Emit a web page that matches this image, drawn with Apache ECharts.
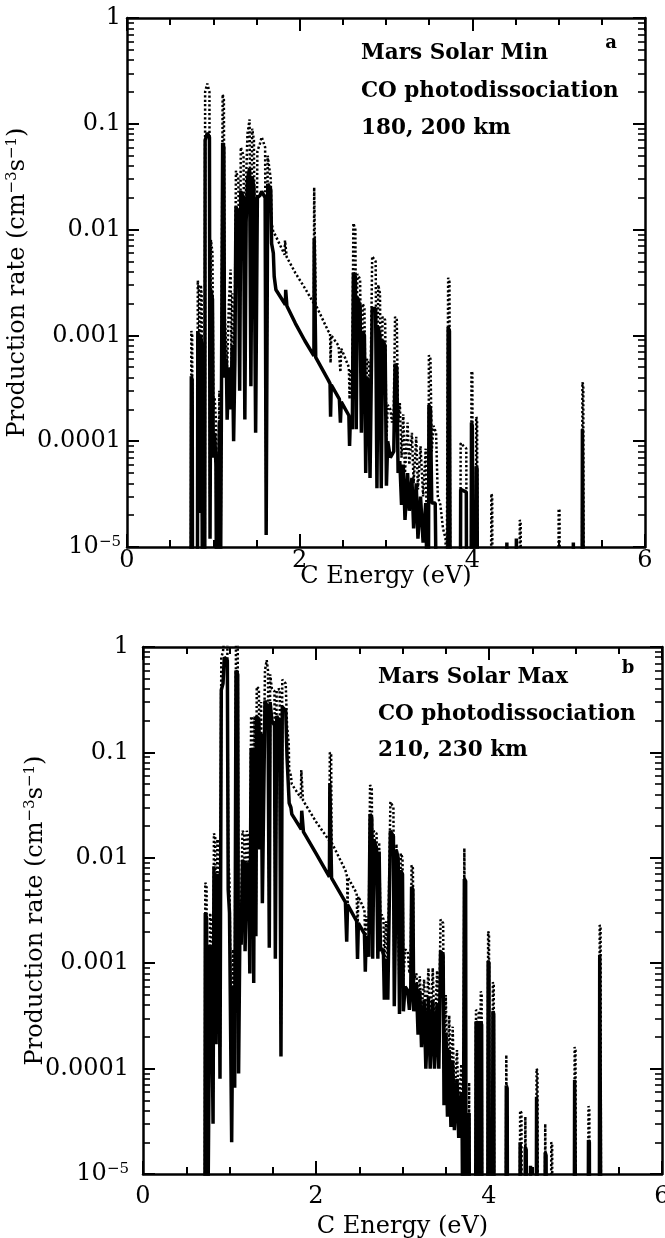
<!DOCTYPE html>
<html>
<head>
<meta charset="utf-8">
<script src="https://cdn.jsdelivr.net/npm/echarts@6/dist/echarts.min.js"></script>
<style>
  html, body { margin: 0; padding: 0; background: #fff; }
  #chart { width: 665px; height: 1238px; }
</style>
</head>
<body>
<div id="chart"></div>
<script>
// C-atom production-rate spectra from CO photodissociation on Mars.
// Each series is a polyline of [energy (eV), rate (cm^-3 s^-1)] vertices;
// values of 1e-6 sit below the 1e-5 floor and are clipped by the grid.

const energyTicks = [0, 2, 4, 6];
const rateDecades = [1e-5, 1e-4, 1e-3, 1e-2, 1e-1, 1];
const rateLabels = ['10{e|−5}', '0.0001', '0.001', '0.01', '0.1', '1'];

// Panel a: solar minimum, lower altitude (dotted) and upper altitude (solid)
const minSolid = [
  [0.74,1e-6],[0.745,4.1e-4],[0.755,3.8e-4],[0.76,1e-6],
  [0.815,1e-6],[0.82,1.1e-3],[0.835,9e-4],[0.845,2.1e-5],[0.855,1.0e-3],[0.865,8e-4],[0.875,1e-6],
  [0.9,1e-6],[0.905,0.07],[0.93,0.082],[0.955,0.075],[0.962,1.2e-5],[0.972,2.7e-3],[0.99,2.2e-3],[1.0,7e-5],
  [1.015,1.2e-4],[1.03,6e-5],[1.04,1e-6],[1.06,1e-6],[1.07,1.5e-4],[1.08,1e-6],
  [1.1,1e-6],[1.108,0.066],[1.122,0.06],[1.13,4e-4],[1.15,5.9e-4],[1.16,1.6e-4],[1.18,5e-4],[1.2,2e-4],
  [1.22,8e-4],[1.235,1e-4],[1.25,6e-4],
  [1.262,0.0165],[1.29,0.014],[1.305,3e-4],[1.318,0.023],[1.35,0.02],[1.365,1.6e-4],[1.38,0.012],
  [1.395,0.03],[1.42,0.038],[1.435,3.3e-4],[1.45,0.032],[1.47,0.025],[1.49,1.2e-4],[1.51,0.02],
  [1.54,0.021],[1.56,0.023],[1.6,0.02],[1.612,1.3e-5],
  [1.63,0.027],[1.665,0.024],[1.675,7.4e-3],[1.695,6e-3],[1.705,3.6e-3],[1.725,2.7e-3],
  [1.835,1.95e-3],[1.838,2.7e-3],[1.848,2.6e-3],[1.852,1.9e-3],
  [1.95,1.3e-3],[2.06,8.9e-4],[2.165,6.4e-4],[2.168,8.3e-3],[2.182,8.1e-3],[2.186,6.2e-4],
  [2.33,3.8e-4],[2.352,3.5e-4],[2.358,1.7e-4],[2.366,3.4e-4],
  [2.46,2.5e-4],[2.472,1.5e-4],[2.482,2.35e-4],
  [2.57,1.75e-4],[2.578,9e-5],[2.588,1.7e-4],
  [2.61,1.3e-4],[2.622,3.9e-3],[2.645,3.6e-3],[2.655,1.3e-4],[2.668,2.3e-3],[2.7,1.9e-3],[2.715,1.2e-4],
  [2.73,1.1e-3],[2.75,1e-3],[2.765,5e-5],[2.78,4e-4],[2.8,3.6e-4],[2.815,4.5e-5],[2.84,1.8e-3],
  [2.88,1.8e-3],[2.895,3.6e-5],[2.91,1.2e-3],[2.93,1e-3],[2.945,3.6e-5],[2.96,9e-4],[2.99,8e-4],
  [3.005,3.8e-5],[3.02,1e-4],[3.05,7e-5],[3.07,6.8e-5],[3.09,8e-5],[3.105,5.4e-4],[3.125,5e-4],
  [3.14,5e-5],[3.16,6.5e-5],[3.18,2.5e-5],[3.2,6e-5],[3.22,1.8e-5],[3.25,5e-5],[3.27,2.2e-5],
  [3.3,4.5e-5],[3.32,1.5e-5],[3.35,4e-5],[3.37,1.2e-5],[3.4,3e-5],[3.43,1.1e-5],[3.46,2.6e-5],[3.49,1e-6],
  [3.497,2.2e-4],[3.515,2e-4],[3.53,2.6e-5],[3.57,2.6e-5],[3.59,1e-6],
  [3.715,1e-6],[3.72,1.2e-3],[3.735,1.1e-3],[3.745,1e-6],
  [3.86,1e-6],[3.865,3.5e-5],[3.93,3.3e-5],[3.935,1e-6],
  [3.985,1e-6],[3.99,1.5e-4],[4.0,1.4e-4],[4.01,1e-6],
  [4.04,1e-6],[4.045,5.8e-5],[4.055,5.5e-5],[4.06,1e-6],
  [4.395,1e-6],[4.4,1.1e-5],[4.405,1e-6],
  [4.505,1e-6],[4.51,1.2e-5],[4.515,1e-6],
  [5.165,1e-6],[5.17,1.1e-5],[5.175,1e-6],
  [5.27,1e-6],[5.275,1.3e-4],[5.285,1.25e-4],[5.29,1e-6]
];

const minDotted = [
  [0.74,1e-6],[0.745,1.1e-3],[0.755,1e-3],[0.76,1e-6],
  [0.815,1e-6],[0.82,3.3e-3],[0.835,2.5e-3],[0.845,6e-5],[0.855,3e-3],[0.865,2.4e-3],[0.875,1e-6],
  [0.9,1e-6],[0.905,0.2],[0.93,0.24],[0.955,0.2],[0.962,3e-5],[0.972,8e-3],[0.99,6e-3],[1.0,2e-4],
  [1.015,2.6e-4],[1.03,1.6e-4],[1.04,1e-6],[1.06,1e-6],[1.07,3e-4],[1.08,1e-6],
  [1.1,1e-6],[1.108,0.19],[1.122,0.17],[1.13,1.7e-3],[1.15,1.7e-3],[1.16,5e-4],[1.18,2e-3],[1.2,4.2e-3],
  [1.21,5e-4],[1.22,2.5e-3],[1.235,3e-4],[1.25,2e-3],
  [1.262,0.036],[1.29,0.03],[1.305,9e-4],[1.318,0.06],[1.35,0.05],[1.365,5e-4],[1.38,0.03],
  [1.395,0.08],[1.42,0.11],[1.435,1e-3],[1.45,0.09],[1.47,0.07],[1.49,4e-4],[1.51,0.055],
  [1.54,0.065],[1.56,0.075],[1.6,0.06],[1.612,4e-5],
  [1.63,0.05],[1.665,0.03],[1.675,0.0115],[1.695,0.0095],[1.72,0.0088],
  [1.825,5.8e-3],[1.83,7.9e-3],[1.845,7.6e-3],[1.85,5.5e-3],
  [1.95,3.9e-3],[2.06,2.8e-3],[2.165,2e-3],[2.168,0.025],[2.182,0.024],[2.186,1.95e-3],
  [2.33,1.1e-3],[2.352,1.05e-3],[2.358,5.5e-4],[2.366,1e-3],
  [2.45,8e-4],[2.472,4.5e-4],[2.482,7.5e-4],
  [2.57,5e-4],[2.578,2.5e-4],[2.588,4.8e-4],
  [2.61,4e-4],[2.622,0.0115],[2.645,0.01],[2.655,4e-4],[2.668,3.8e-3],[2.7,3.4e-3],[2.715,3e-4],
  [2.73,2e-3],[2.75,1.8e-3],[2.765,1.5e-4],[2.78,6e-4],[2.8,5.5e-4],[2.815,1.3e-4],[2.84,5.6e-3],
  [2.88,5e-3],[2.895,1e-4],[2.91,3e-3],[2.93,2.5e-3],[2.945,1e-4],[2.96,1.5e-3],[2.99,1.4e-3],
  [3.005,1e-4],[3.02,2.2e-4],[3.05,2e-4],[3.07,1.5e-4],[3.09,2e-4],[3.105,1.5e-3],[3.125,1.4e-3],
  [3.14,1.5e-4],[3.16,2.3e-4],[3.18,7e-5],[3.2,1.8e-4],[3.22,5e-5],[3.25,1.5e-4],[3.27,6e-5],
  [3.3,1.2e-4],[3.32,4e-5],[3.35,1.1e-4],[3.37,3.5e-5],[3.4,9e-5],[3.43,3e-5],[3.46,8.5e-5],[3.49,1e-6],
  [3.497,6.5e-4],[3.515,6e-4],[3.53,8e-5],[3.55,1.4e-4],[3.58,1.2e-4],[3.6,3e-5],[3.63,2.5e-5],
  [3.66,1.5e-5],[3.69,1.2e-5],[3.7,1e-6],
  [3.715,1e-6],[3.72,3.5e-3],[3.735,3.2e-3],[3.745,1e-6],
  [3.86,1e-6],[3.865,9.6e-5],[3.9,9e-5],[3.93,8.5e-5],[3.935,1e-6],
  [3.985,1e-6],[3.99,4.6e-4],[4.0,4.4e-4],[4.01,1e-6],
  [4.04,1e-6],[4.045,1.7e-4],[4.055,1.6e-4],[4.06,1e-6],
  [4.215,1e-6],[4.22,3.2e-5],[4.23,3e-5],[4.235,1e-6],
  [4.545,1e-6],[4.55,1.8e-5],[4.56,1.7e-5],[4.565,1e-6],
  [4.995,1e-6],[5.0,2.3e-5],[5.01,2.2e-5],[5.015,1e-6],
  [5.27,1e-6],[5.275,3.6e-4],[5.285,3.4e-4],[5.29,1e-6]
];

// Panel b: solar maximum
const maxSolid = [
  [0.715,1e-6],[0.72,3e-3],[0.735,2.7e-3],[0.745,1e-6],[0.765,1e-6],[0.775,1.5e-3],[0.79,1.2e-3],
  [0.81,3e-5],[0.82,8.3e-3],[0.835,8e-3],[0.845,1.7e-4],[0.86,7e-3],[0.875,6.5e-3],[0.89,8e-5],
  [0.905,0.39],[0.925,0.45],[0.94,0.8],[0.975,0.75],[0.985,5e-3],[1.0,3e-3],[1.025,2e-5],[1.04,6e-4],
  [1.06,6.6e-5],[1.075,0.6],[1.095,0.55],[1.105,9e-5],[1.12,2e-3],[1.135,1.5e-3],
  [1.15,9.5e-3],[1.17,9e-3],[1.18,1.3e-3],[1.2,9e-3],[1.22,8e-3],[1.235,8e-4],
  [1.25,0.11],[1.27,0.1],[1.28,6.5e-4],[1.29,0.11],[1.305,1.8e-3],[1.315,0.22],[1.34,0.2],[1.35,0.012],
  [1.365,0.15],[1.38,3.7e-3],[1.41,0.31],[1.43,0.3],[1.445,0.26],[1.46,1.4e-3],[1.47,0.3],[1.49,0.2],
  [1.52,0.18],[1.53,1.1e-3],[1.545,0.22],[1.58,0.2],[1.595,1.3e-4],[1.61,0.27],[1.65,0.25],[1.665,0.09],
  [1.685,0.09],[1.69,0.033],[1.71,0.03],[1.72,0.026],
  [1.83,0.0186],[1.835,0.028],[1.85,0.027],[1.855,0.0176],[2.0,0.011],[2.155,6.6e-3],[2.16,0.051],
  [2.175,0.049],[2.18,6.4e-3],[2.34,3.8e-3],[2.355,1.6e-3],[2.365,3.6e-3],[2.47,2.5e-3],[2.48,1.1e-3],
  [2.49,2.4e-3],[2.56,1.9e-3],[2.57,8.3e-4],[2.58,1.8e-3],[2.6,1.66e-3],
  [2.61,1.15e-3],[2.625,0.026],[2.645,0.024],[2.655,1.1e-3],[2.67,0.015],[2.7,0.012],[2.715,1.1e-3],
  [2.73,0.0115],[2.745,1.3e-3],[2.76,1.4e-3],[2.78,1.2e-3],[2.79,4.5e-4],[2.81,1.1e-3],[2.83,4.5e-4],
  [2.86,0.018],[2.895,0.016],[2.905,3.9e-4],[2.93,0.0117],[2.95,0.01],[2.965,3.3e-4],[2.98,7.6e-3],
  [3.0,7e-3],[3.01,3.5e-4],[3.03,6e-4],[3.06,5.5e-4],[3.08,3.6e-4],[3.095,5e-4],[3.105,5.3e-3],
  [3.12,5e-3],[3.13,3.5e-4],[3.16,6.5e-4],[3.18,2.1e-4],[3.2,5.5e-4],[3.22,1.6e-4],[3.25,4.5e-4],
  [3.27,1e-4],[3.3,4.8e-4],[3.32,1e-4],[3.35,4.5e-4],[3.37,1e-4],[3.4,4.2e-4],[3.42,1e-4],[3.44,1.3e-3],
  [3.47,1.2e-3],[3.48,4.5e-5],[3.5,2.2e-4],[3.52,3.5e-5],[3.54,1.5e-4],[3.56,2.8e-5],[3.58,1.2e-4],
  [3.6,2.6e-5],[3.63,8e-5],[3.65,2.2e-5],[3.68,6e-5],[3.69,2.1e-5],[3.7,1e-6],
  [3.71,1e-6],[3.715,6.3e-3],[3.73,6e-3],[3.735,1e-6],[3.765,1e-6],[3.77,3.8e-5],[3.775,1e-6],
  [3.845,1e-6],[3.85,2.8e-4],[3.88,2.6e-4],[3.885,1e-6],[3.9,1e-6],[3.905,2.8e-4],[3.915,2.6e-4],[3.92,1e-6],
  [3.985,1e-6],[3.99,1.05e-3],[4.0,1e-3],[4.005,1e-6],
  [4.04,1e-6],[4.045,3.5e-4],[4.055,3.3e-4],[4.06,1e-6],
  [4.195,1e-6],[4.2,6.9e-5],[4.21,6.5e-5],[4.215,1e-6],
  [4.355,1e-6],[4.36,2e-5],[4.375,2e-5],[4.38,1e-6],[4.415,1e-6],[4.42,1.8e-5],[4.43,1.7e-5],[4.435,1e-6],
  [4.475,1e-6],[4.48,1.2e-5],[4.485,1e-6],
  [4.545,1e-6],[4.55,5.4e-5],[4.56,5.2e-5],[4.565,1e-6],
  [4.645,1e-6],[4.65,1.6e-5],[4.66,1.5e-5],[4.665,1e-6],
  [4.985,1e-6],[4.99,7.8e-5],[5.0,7.5e-5],[5.005,1e-6],
  [5.145,1e-6],[5.15,2.1e-5],[5.16,2e-5],[5.165,1e-6],
  [5.275,1e-6],[5.28,1.2e-3],[5.29,1.15e-3],[5.295,1e-6]
];

const maxDotted = [
  [0.715,1e-6],[0.72,5.8e-3],[0.735,5.5e-3],[0.745,1e-6],[0.765,1e-6],[0.775,3e-3],[0.79,2.5e-3],
  [0.81,6e-5],[0.82,0.017],[0.835,0.016],[0.845,3.5e-4],[0.86,0.015],[0.875,0.013],[0.89,1.6e-4],
  [0.905,0.8],[0.925,0.9],[0.94,1.3],[0.975,1.2],[0.985,0.01],[1.0,6e-3],[1.025,4e-5],[1.04,1.35e-3],
  [1.06,1.3e-4],[1.075,1.3],[1.095,1.2],[1.105,2e-4],[1.12,4e-3],[1.135,3e-3],
  [1.15,0.018],[1.17,0.017],[1.18,2.5e-3],[1.2,0.018],[1.22,0.016],[1.235,1.6e-3],
  [1.25,0.22],[1.27,0.2],[1.28,1.3e-3],[1.29,0.22],[1.305,3.6e-3],[1.315,0.42],[1.34,0.4],[1.35,0.025],
  [1.365,0.3],[1.38,7e-3],[1.41,0.6],[1.43,0.75],[1.445,0.6],[1.46,2.8e-3],[1.47,0.55],[1.49,0.4],
  [1.52,0.38],[1.53,2.2e-3],[1.545,0.39],[1.58,0.4],[1.595,2.6e-4],[1.61,0.49],[1.65,0.45],[1.665,0.18],
  [1.685,0.12],[1.69,0.068],[1.71,0.06],[1.72,0.05],
  [1.825,0.037],[1.83,0.068],[1.845,0.066],[1.85,0.035],[2.0,0.022],[2.155,0.0145],[2.16,0.1],
  [2.175,0.095],[2.18,0.014],[2.34,7.6e-3],[2.36,6.6e-3],[2.365,3e-3],[2.37,6.5e-3],[2.47,4.6e-3],
  [2.48,2e-3],[2.49,4.3e-3],[2.56,3.2e-3],[2.57,1.5e-3],[2.58,2.8e-3],[2.6,2.2e-3],
  [2.61,2e-3],[2.625,0.049],[2.645,0.045],[2.655,2e-3],[2.67,0.018],[2.7,0.017],[2.715,2e-3],
  [2.73,0.014],[2.745,2.5e-3],[2.76,2.9e-3],[2.78,2.6e-3],[2.79,9e-4],[2.81,2.5e-3],[2.83,9e-4],
  [2.86,0.034],[2.895,0.03],[2.905,7e-4],[2.93,0.0135],[2.95,0.013],[2.965,6e-4],[2.98,0.011],
  [3.0,0.01],[3.01,7e-4],[3.03,1.35e-3],[3.06,1.3e-3],[3.08,8e-4],[3.095,1e-3],[3.105,8.5e-3],
  [3.12,8e-3],[3.13,7e-4],[3.16,8e-4],[3.18,4.5e-4],[3.2,7.5e-4],[3.22,3.5e-4],[3.25,7e-4],
  [3.27,2.5e-4],[3.3,9e-4],[3.32,2.2e-4],[3.35,9e-4],[3.37,2e-4],[3.4,8.5e-4],[3.42,2e-4],[3.44,2.6e-3],
  [3.47,2.4e-3],[3.48,9e-5],[3.5,5e-4],[3.52,8e-5],[3.54,3.2e-4],[3.56,6e-5],[3.58,2.5e-4],
  [3.6,5e-5],[3.63,1.5e-4],[3.65,4e-5],[3.68,1.1e-4],[3.69,4e-5],[3.7,1e-6],
  [3.71,1e-6],[3.715,0.0123],[3.73,0.012],[3.735,1e-6],[3.765,1e-6],[3.77,7.4e-5],[3.775,1e-6],
  [3.845,1e-6],[3.85,3.6e-4],[3.88,3.4e-4],[3.885,1e-6],[3.9,1e-6],[3.905,5.4e-4],[3.915,5e-4],[3.92,1e-6],
  [3.985,1e-6],[3.99,2e-3],[4.0,1.9e-3],[4.005,1e-6],
  [4.04,1e-6],[4.045,6.6e-4],[4.055,6.3e-4],[4.06,1e-6],
  [4.195,1e-6],[4.2,1.35e-4],[4.21,1.3e-4],[4.215,1e-6],
  [4.355,1e-6],[4.36,4e-5],[4.375,3.8e-5],[4.38,1e-6],[4.415,1e-6],[4.42,3.5e-5],[4.43,3.4e-5],[4.435,1e-6],
  [4.545,1e-6],[4.55,1e-4],[4.56,9.5e-5],[4.565,1e-6],
  [4.645,1e-6],[4.65,3e-5],[4.66,2.9e-5],[4.665,1e-6],[4.715,1e-6],[4.72,2e-5],[4.73,1.9e-5],[4.735,1e-6],
  [4.985,1e-6],[4.99,1.6e-4],[5.0,1.5e-4],[5.005,1e-6],
  [5.145,1e-6],[5.15,4.4e-5],[5.16,4.2e-5],[5.165,1e-6],
  [5.275,1e-6],[5.28,2.3e-3],[5.29,2.2e-3],[5.295,1e-6]
];

const panelTitles = [
  ['Mars Solar Min', 'CO photodissociation', '180, 200 km'],
  ['Mars Solar Max', 'CO photodissociation', '210, 230 km']
];
const panelLetters = ['a', 'b'];

// minor log ticks at 2..9 within each decade
const rateMinor = [];
rateDecades.slice(0, -1).forEach(d => {
  for (let k = 2; k <= 9; k++) rateMinor.push(+(k * d).toPrecision(3));
});

const FONT = '"DejaVu Serif", "Liberation Serif", serif';
const INK = '#000';
const AXIS_FONT = 24;

// per-panel placement of axis texts
const panelLayout = [
  { grid: { left: 127, top: 18, width: 518, height: 529 },
    xLabelMargin: 2, xNameGap: 18, yLabelMargin: 6, yNameGap: 96,
    textX: 361, textY: [53, 91, 128], letter: [611, 43] },
  { grid: { left: 143, top: 647, width: 519, height: 527 },
    xLabelMargin: 11, xNameGap: 41, yLabelMargin: 14, yNameGap: 94,
    textX: 378, textY: [677, 714, 750], letter: [628, 668] }
];

function rateLabel(v) {
  return rateLabels[Math.round(Math.log10(v)) + 5];
}

function xAxesFor(g) {
  const L = panelLayout[g];
  const common = {
    type: 'value', gridIndex: g, min: 0, max: 6, interval: 2,
    splitLine: { show: false },
    axisLine: { show: true, onZero: false, lineStyle: { color: INK, width: 2.5 } },
    axisTick: { show: true, inside: true, length: 13, lineStyle: { color: INK, width: 2 } },
    minorTick: { show: true, splitNumber: 4, length: 7, lineStyle: { color: INK, width: 2 } },
    minorSplitLine: { show: false }
  };
  return [
    Object.assign({}, common, {
      position: 'bottom',
      axisLabel: { show: true, margin: L.xLabelMargin, color: INK, fontFamily: FONT,
                   fontSize: AXIS_FONT, customValues: energyTicks },
      name: 'C Energy (eV)', nameLocation: 'middle', nameGap: L.xNameGap, nameMoveOverlap: false,
      nameTextStyle: { color: INK, fontFamily: FONT, fontSize: AXIS_FONT }
    }),
    Object.assign({}, common, { position: 'top', axisLabel: { show: false } })
  ];
}

function yAxesFor(g) {
  const L = panelLayout[g];
  const base = { type: 'log', logBase: 10, gridIndex: g, min: 1e-5, max: 1, splitLine: { show: false } };
  const major = (pos, withLabels) => Object.assign({}, base, {
    position: pos,
    axisLine: { show: true, onZero: false, lineStyle: { color: INK, width: 2.5 } },
    axisTick: { show: true, inside: true, length: 12, customValues: rateDecades,
                lineStyle: { color: INK, width: 2 } },
    axisLabel: withLabels ? {
      show: true, margin: L.yLabelMargin, customValues: rateDecades, formatter: rateLabel,
      color: INK, fontFamily: FONT, fontSize: AXIS_FONT,
      rich: { e: { fontFamily: FONT, fontSize: 15, verticalAlign: 'top', color: INK } }
    } : { show: false },
    name: withLabels ? 'Production rate (cm{s|−3}s{s|−1})' : '',
    nameLocation: 'middle', nameGap: withLabels ? L.yNameGap : 0, nameRotate: 90,
    nameMoveOverlap: false,
    nameTextStyle: {
      color: INK, fontFamily: FONT, fontSize: AXIS_FONT, lineHeight: 26,
      rich: { s: { fontFamily: FONT, fontSize: 15, verticalAlign: 'top', color: INK } }
    }
  });
  const minor = pos => Object.assign({}, base, {
    position: pos,
    axisLine: { show: false, onZero: false },
    axisTick: { show: true, inside: true, length: 7, customValues: rateMinor,
                lineStyle: { color: INK, width: 1.6 } },
    axisLabel: { show: false }
  });
  return [major('left', true), minor('left'), major('right', false), minor('right')];
}

function seriesFor(g, dotted, solid) {
  return [
    {
      type: 'line', xAxisIndex: 2 * g, yAxisIndex: 4 * g, data: dotted,
      symbol: 'none', clip: true, silent: true, z: 2,
      lineStyle: { color: INK, width: 2.5, type: [2.2, 2.2], cap: 'butt', join: 'bevel' }
    },
    {
      type: 'line', xAxisIndex: 2 * g, yAxisIndex: 4 * g, data: solid,
      symbol: 'none', clip: true, silent: true, z: 3,
      lineStyle: { color: INK, width: 3.5, cap: 'butt', join: 'bevel' }
    }
  ];
}

// text block inside each panel
const graphics = [];
panelLayout.forEach((L, g) => {
  panelTitles[g].forEach((t, i) => {
    graphics.push({
      type: 'text', x: L.textX, y: L.textY[i], silent: true,
      style: { text: t, fill: INK, fontFamily: FONT, fontWeight: 'bold', fontSize: 21.5,
               align: 'left', verticalAlign: 'middle' }
    });
  });
  graphics.push({
    type: 'text', x: L.letter[0], y: L.letter[1], silent: true,
    style: { text: panelLetters[g], fill: INK, fontFamily: FONT, fontWeight: 'bold', fontSize: 18,
             align: 'center', verticalAlign: 'middle' }
  });
});

const chart = echarts.init(document.getElementById('chart'), null, { renderer: 'canvas' });
chart.setOption({
  animation: false,
  backgroundColor: '#fff',
  grid: panelLayout.map(L => Object.assign({ outerBoundsMode: 'none', containLabel: false }, L.grid)),
  xAxis: [].concat(xAxesFor(0), xAxesFor(1)),
  yAxis: [].concat(yAxesFor(0), yAxesFor(1)),
  series: [].concat(seriesFor(0, minDotted, minSolid), seriesFor(1, maxDotted, maxSolid)),
  graphic: graphics
});
</script>
</body>
</html>
